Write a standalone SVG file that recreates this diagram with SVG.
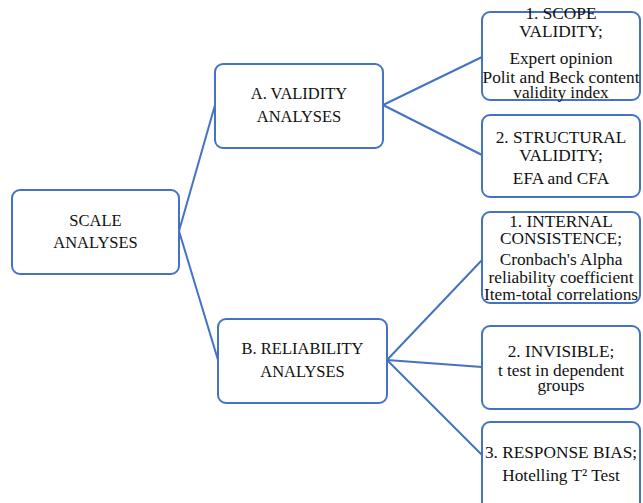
<svg xmlns="http://www.w3.org/2000/svg" width="643" height="503" viewBox="0 0 643 503">
<style>
.box{fill:#fff;stroke:#4472C4;stroke-width:2}
.t{font-family:"Liberation Serif","Times New Roman",serif;font-size:16.5px;fill:#111;text-anchor:middle}
.r{font-size:17.3px}
.c{stroke:#4472C4;stroke-width:2;fill:none}
</style>
<rect width="643" height="503" fill="#fff"/>
<g id="connectors">
<line class="c" x1="179" y1="231" x2="215" y2="105"/>
<line class="c" x1="179" y1="231" x2="218" y2="360"/>
<line class="c" x1="383" y1="105" x2="482" y2="57"/>
<line class="c" x1="383" y1="105" x2="482" y2="155"/>
<line class="c" x1="387" y1="360" x2="482" y2="260"/>
<line class="c" x1="387" y1="360" x2="482" y2="367"/>
<line class="c" x1="387" y1="360" x2="482" y2="455"/>
</g>
<g id="scale">
<rect class="box" x="12" y="190" width="167" height="84" rx="8"/>
<text class="t" x="95.5" y="226">SCALE</text>
<text class="t" x="95.5" y="248">ANALYSES</text>
</g>
<g id="validity">
<rect class="box" x="215" y="64" width="168" height="84" rx="8"/>
<text class="t" x="299" y="99">A. VALIDITY</text>
<text class="t" x="299" y="122">ANALYSES</text>
</g>
<g id="reliability">
<rect class="box" x="218" y="319" width="169" height="84" rx="8"/>
<text class="t" x="302.5" y="354">B. RELIABILITY</text>
<text class="t" x="302.5" y="377">ANALYSES</text>
</g>
<g id="scope">
<rect class="box" x="482" y="12" width="158" height="88" rx="8"/>
<text class="t r" x="561" y="19">1. SCOPE</text>
<text class="t r" x="561" y="37">VALIDITY;</text>
<text class="t r" x="561" y="64">Expert opinion</text>
<text class="t r" x="561" y="83">Polit and Beck content</text>
<text class="t r" x="561" y="98">validity index</text>
</g>
<g id="structural">
<rect class="box" x="482" y="115" width="158" height="82" rx="8"/>
<text class="t r" x="561" y="143">2. STRUCTURAL</text>
<text class="t r" x="561" y="161">VALIDITY;</text>
<text class="t r" x="561" y="184">EFA and CFA</text>
</g>
<g id="internal">
<rect class="box" x="482" y="212" width="158" height="91" rx="8"/>
<text class="t r" x="561" y="227">1. INTERNAL</text>
<text class="t r" x="561" y="244">CONSISTENCE;</text>
<text class="t r" x="561" y="265">Cronbach's Alpha</text>
<text class="t r" x="561" y="283">reliability coefficient</text>
<text class="t r" x="561" y="300">Item-total correlations</text>
</g>
<g id="invisible">
<rect class="box" x="482" y="326" width="158" height="83" rx="8"/>
<text class="t r" x="561" y="357">2. INVISIBLE;</text>
<text class="t r" x="561" y="376">t test in dependent</text>
<text class="t r" x="561" y="391">groups</text>
</g>
<g id="bias">
<rect class="box" x="482" y="422" width="158" height="90" rx="8"/>
<text class="t r" x="561" y="458">3. RESPONSE BIAS;</text>
<text class="t r" x="561" y="481">Hotelling T² Test</text>
</g>
</svg>
